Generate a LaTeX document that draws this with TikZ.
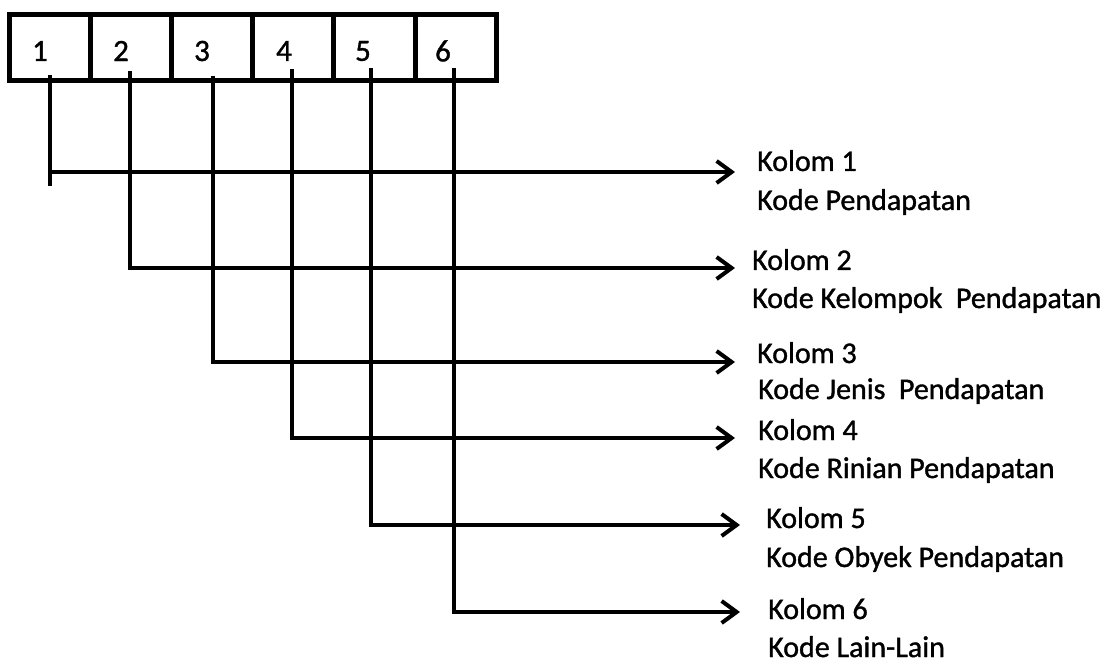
\documentclass[tikz,border=0pt]{standalone}
\usepackage{fontspec}
\setmainfont{Carlito}[BoldFont=Carlito, BoldFeatures={FakeBold=1.2}]
\usetikzlibrary{arrows.meta}
\begin{document}
\begin{tikzpicture}[x=1pt,y=-1pt,
  cell/.style={draw,line width=5pt,minimum width=81.2pt,minimum height=66pt,inner sep=0pt,outer sep=0pt},
  digit/.style={inner sep=0pt,font=\fontsize{31}{36}\selectfont\bfseries},
  label/.style={anchor=base west,inner sep=0pt,font=\fontsize{30}{36}\selectfont\bfseries},
  conn/.style={line width=4pt,line join=miter},
  tip/.style={-{Straight Barb[length=15pt,width=22pt]}}]
\useasboundingbox (0,0) rectangle (1104,663);

% code cells
\foreach \i/\cx in {1/49.6,2/130.8,3/212,4/293.2,5/374.4,6/455.6}
  \node[cell] (c\i) at (\cx,48) {};
% digits in the cells
\foreach \i/\dx in {1/40,2/121,3/202,4/284,5/363,6/443}
  \node[digit] (n\i) at (\dx,51) {\i};

% start points of the connectors
\coordinate (s1) at (50,75);
\coordinate (s2) at (130,71);
\coordinate (s3) at (213,76);
\coordinate (s4) at (292,69);
\coordinate (s5) at (371,68);
\coordinate (s6) at (454,68);
\coordinate (e1) at (50,186);

% arrow tips
\coordinate (a1) at (735,172);
\coordinate (a2) at (735,268);
\coordinate (a3) at (735,362);
\coordinate (a4) at (735,438);
\coordinate (a5) at (740,525);
\coordinate (a6) at (740,612);

% labels
\node[label] (k1) at (757,171) {Kolom 1};
\node[label] (d1) at (757,210) {Kode Pendapatan};
\node[label] (k2) at (752,270) {Kolom 2};
\node[label] (d2) at (752,308) {Kode Kelompok~ Pendapatan};
\node[label] (k3) at (757,363) {Kolom 3};
\node[label] (d3) at (758,399) {Kode Jenis~ Pendapatan};
\node[label] (k4) at (758,440) {Kolom 4};
\node[label] (d4) at (758,478) {Kode Rinian Pendapatan};
\node[label] (k5) at (766,528) {Kolom 5};
\node[label] (d5) at (766,567) {Kode Obyek Pendapatan};
\node[label] (k6) at (768,619) {Kolom 6};
\node[label] (d6) at (768,657) {Kode Lain-Lain};

% connectors
\draw[conn] (s1) -- (e1);
\foreach \i in {1,...,6}
  \draw[conn,tip] (s\i) |- (a\i);
\end{tikzpicture}
\end{document}
